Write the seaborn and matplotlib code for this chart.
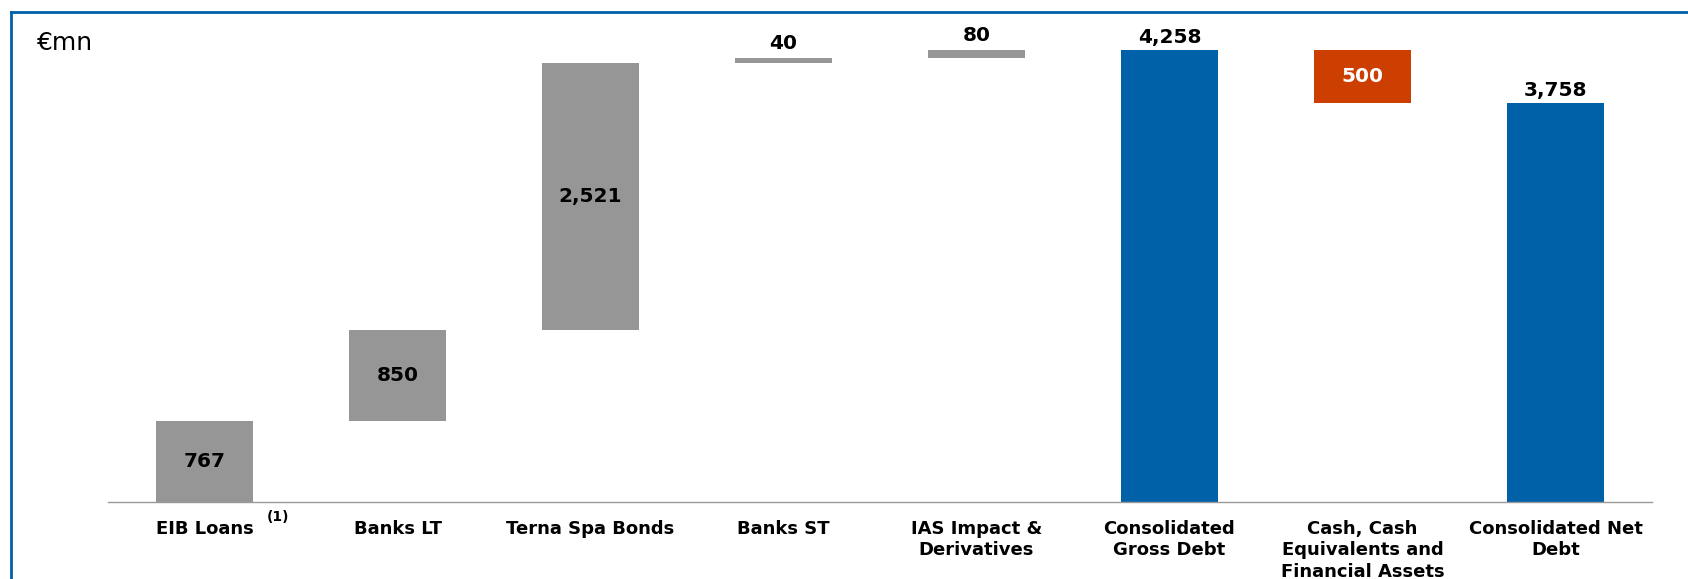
import matplotlib
matplotlib.use("Agg")
import matplotlib.pyplot as plt
import seaborn as sns
import pandas as pd
from matplotlib.lines import Line2D

# Debt bridge data (EUR million)
categories = [
    "EIB Loans",
    "Banks LT",
    "Terna Spa Bonds",
    "Banks ST",
    "IAS Impact &\nDerivatives",
    "Consolidated\nGross Debt",
    "Cash, Cash\nEquivalents and\nFinancial Assets",
    "Consolidated Net\nDebt",
]
values = [767, 850, 2521, 40, 80, 4258, 500, 3758]
kinds = ["step", "step", "step", "step", "step", "total", "minus", "total"]
value_labels = ["767", "850", "2,521", "40", "80", "4,258", "500", "3,758"]

GREY = "#969696"
BLUE = "#0060A8"
ORANGE = "#CC3F00"
kind_colors = {"step": GREY, "total": BLUE, "minus": ORANGE}

# floating bar bases from the running total
bases = []
running = 0
for v, k in zip(values, kinds):
    if k == "step":
        bases.append(running)
        running += v
    elif k == "total":
        bases.append(0)
        running = v
    else:
        running -= v
        bases.append(running)

df = pd.DataFrame({"category": categories, "value": values, "base": bases})

sns.set_theme(style="white")
plt.rcParams["font.family"] = ["DejaVu Sans"]

fig = plt.figure(figsize=(16.88, 5.79), dpi=100)
ax = fig.add_axes([108 / 1688, 77 / 579, (1652 - 108) / 1688, (502 - 45.3) / 579])

sns.barplot(data=df, x="category", y="value", bottom=df["base"].to_numpy(),
            width=0.5, color=GREY, ax=ax, saturation=1, linewidth=0)
for patch, k in zip(ax.patches, kinds):
    patch.set_facecolor(kind_colors[k])

ax.set_xlim(-0.5, len(categories) - 0.5)
ax.set_ylim(0, 4300)
ax.set_xlabel("")
ax.set_ylabel("")
ax.set_yticks([])
for side in ["top", "left", "right"]:
    ax.spines[side].set_visible(False)
ax.spines["bottom"].set_color("#999999")
ax.spines["bottom"].set_linewidth(1.0)
ax.tick_params(axis="x", length=0, pad=13)
ax.set_xticks(range(len(categories)))
ax.set_xticklabels(categories, fontsize=13, fontweight="bold", color="black",
                   linespacing=1.24, va="top")

# value labels: above thin bars and totals, centred inside the rest
for i, (v, b, k, lab) in enumerate(zip(values, bases, kinds, value_labels)):
    if k == "total" or v < 300:
        lift = 6.5 if v < 300 else 5
        ax.annotate(lab, (i, b + v), xytext=(0, lift), textcoords="offset points",
                    ha="center", va="baseline", fontsize=14.5, fontweight="bold",
                    color="black")
    else:
        ax.text(i, b + v / 2, lab, ha="center", va="center", fontsize=14.5,
                fontweight="bold",
                color="white" if k == "minus" else "black")

# footnote marker next to the first category
ax.annotate("(1)", (0, 0), xytext=(53, -11), textcoords="offset points",
            ha="center", va="center", fontsize=10, fontweight="bold",
            color="black", annotation_clip=False)

fig.text(37 / 1688, 1 - 43 / 579, "€mn", fontsize=18, ha="left", va="center",
         color="black")

# slide frame
fx, fy = 11 / 1688, 1 - 12 / 579
fig.add_artist(Line2D([fx, fx], [0, fy], transform=fig.transFigure,
                      color=BLUE, linewidth=2, solid_capstyle="projecting"))
fig.add_artist(Line2D([fx, 1], [fy, fy], transform=fig.transFigure,
                      color=BLUE, linewidth=2, solid_capstyle="projecting"))

fig.savefig("out.png", dpi=100, facecolor="white")
